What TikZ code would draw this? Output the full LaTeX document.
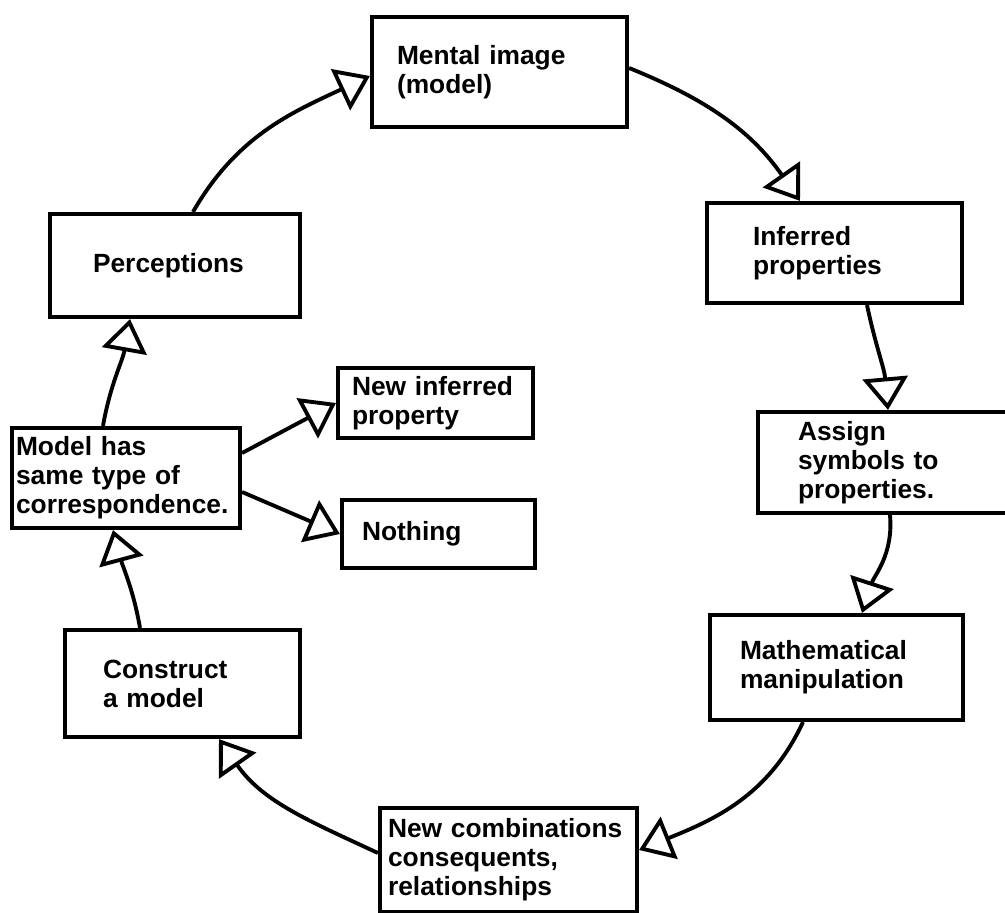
\documentclass[tikz,border=0pt]{standalone}
\usepackage{fontspec}
\newfontfamily\stagefont{Liberation Sans}
\usetikzlibrary{arrows.meta}

\begin{document}
\begin{tikzpicture}[
    x=0.02cm, y=-0.02cm,
    % Stage Box Style
    stage/.style={
        draw,
        line width=2.4pt,
        align=left,
        inner ysep=0pt,
        font=\stagefont\bfseries\fontsize{15}{16.5}\selectfont
    },
    % Cycle Arrow Style - big hollow heads
    flow/.style={
        -{Triangle[open, length=0.65cm, width=0.9cm]},
        line width=2.2pt
    }
]

    \useasboundingbox (0,0) rectangle (1005,913);

    % Stages round the cycle
    \node[stage, minimum height=2.2cm, text width=4.1cm, inner xsep=0.5cm] (ment) at (499.5,72) {Mental image\\(model)\\[4pt]};
    \node[stage, minimum height=2.0cm, text width=3.26cm, inner xsep=0.92cm] (infer) at (834.5,253) {Inferred\\properties};
    \node[stage, minimum height=2.02cm, text width=3.54cm, inner xsep=0.8cm] (assign) at (886.5,462.5) {Assign\\symbols to\\properties.};
    \node[stage, minimum height=2.1cm, text width=3.86cm, inner xsep=0.6cm] (math) at (836.5,667.5) {Mathematical\\manipulation};
    \node[stage, minimum height=2.08cm, text width=4.82cm, inner xsep=0.16cm] (combo) at (508.5,860) {New combinations\\consequents,\\relationships};
    \node[stage, minimum height=2.14cm, text width=3.18cm, inner xsep=0.76cm] (constr) at (182.5,683.5) {Construct\\a model};
    \node[stage, minimum height=2.0cm, text width=4.4cm, inner xsep=0.08cm] (corr) at (126,478) {Model has\\same type of\\correspondence.};
    \node[stage, minimum height=2.06cm, text width=3.28cm, inner xsep=0.86cm] (percep) at (175,265.5) {Perceptions};

    % Outcomes of the check
    \node[stage, minimum height=1.4cm, text width=3.34cm, inner xsep=0.28cm] (newprop) at (435.5,403) {New inferred\\property};
    \node[stage, minimum height=1.36cm, text width=3.06cm, inner xsep=0.4cm] (nothing) at (438.5,534) {Nothing};

    % Cycle arcs
    \draw[flow] ([xshift=0.36cm]percep.north) to[out=60, in=205] ([yshift=-0.08cm]ment.west);
    \draw[flow] ([yshift=0.08cm]ment.east) to[out=-22, in=125] ([xshift=-0.69cm]infer.north);
    \draw[flow] ([xshift=0.65cm]infer.south) to[out=-78, in=95] ([xshift=0.03cm]assign.north);
    \draw[flow] ([xshift=0.07cm]assign.south) to[out=-85, in=72] ([xshift=0.51cm]math.north);
    \draw[flow] ([xshift=-0.67cm]math.south) to[out=-115, in=22] ([yshift=0.2cm]combo.east);
    \draw[flow] ([yshift=0.14cm]combo.west) to[out=155, in=-55] ([xshift=0.73cm]constr.south);
    \draw[flow] ([xshift=-0.85cm]constr.north) to[out=100, in=-75] ([xshift=-0.26cm]corr.south);
    \draw[flow] ([xshift=-0.46cm]corr.north) to[out=80, in=-100] ([xshift=-0.9cm]percep.south);

    % Branches
    \draw[flow] ([yshift=0.5cm]corr.east) -- (newprop.west);
    \draw[flow] ([yshift=-0.28cm]corr.east) -- (nothing.west);

\end{tikzpicture}
\end{document}
